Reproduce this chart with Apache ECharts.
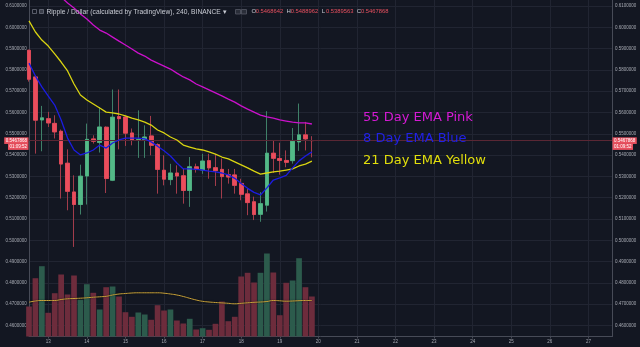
<!DOCTYPE html>
<html>
<head>
<meta charset="utf-8">
<script src="https://cdn.jsdelivr.net/npm/echarts@6/dist/echarts.min.js"></script>
<style>
  html, body { margin: 0; padding: 0; background: #131722; }
  #chart { width: 640px; height: 347px; }
</style>
</head>
<body>
<div id="chart"></div>
<script>
// XRP / USD, 4-hour candles from the 12th 12:00 to the 19th 20:00 (Binance)
const dayLabels = ['13', '14', '15', '16', '17', '18', '19', '20', '21', '22', '23', '24', '25', '26', '27'];
const firstDayCandle = 3;   // candle index that opens the 13th
const candlesPerDay = 6;

const opens = [0.5892, 0.5767, 0.5565, 0.5571, 0.5549, 0.5512, 0.5362, 0.5227, 0.5168, 0.5302,
  0.5476, 0.5459, 0.5531, 0.5282, 0.5581, 0.5579, 0.5504, 0.5472, 0.5473, 0.5490,
  0.5449, 0.5329, 0.5285, 0.5316, 0.5303, 0.5234, 0.5345, 0.5330, 0.5374, 0.5341,
  0.5333, 0.5308, 0.5307, 0.5267, 0.5218, 0.5181, 0.5122, 0.5165, 0.5409, 0.5384,
  0.5375, 0.5374, 0.5462, 0.5495, 0.5468642];
const closes = [0.5756, 0.5564, 0.5575, 0.5551, 0.5509, 0.5358, 0.5230, 0.5168, 0.5301, 0.5474,
  0.5465, 0.5532, 0.5290, 0.5578, 0.5571, 0.5503, 0.5471, 0.5474, 0.5485, 0.5446,
  0.5333, 0.5287, 0.5316, 0.5302, 0.5234, 0.5345, 0.5333, 0.5372, 0.5340, 0.5327,
  0.5299, 0.5297, 0.5258, 0.5216, 0.5177, 0.5121, 0.5172, 0.5409, 0.5385, 0.5375,
  0.5366, 0.5465, 0.5495, 0.5476, 0.5467868];
const lows = [0.5745, 0.5407, 0.5418, 0.5532, 0.5478, 0.5196, 0.5141, 0.4969, 0.5121, 0.5168,
  0.5454, 0.5412, 0.5222, 0.5278, 0.5427, 0.5443, 0.5446, 0.5387, 0.5387, 0.5399,
  0.5219, 0.5258, 0.5259, 0.5219, 0.5172, 0.5157, 0.5318, 0.5312, 0.5289, 0.5255,
  0.5196, 0.5266, 0.5219, 0.5188, 0.5118, 0.5095, 0.5087, 0.5135, 0.5316, 0.5308,
  0.5343, 0.5360, 0.5420, 0.5422, 0.5389563];
const highs = [0.5895, 0.5775, 0.5631, 0.5603, 0.5587, 0.5520, 0.5427, 0.5305, 0.5355, 0.5548,
  0.5493, 0.5626, 0.5535, 0.5708, 0.5708, 0.5585, 0.5525, 0.5610, 0.5540, 0.5584,
  0.5455, 0.5399, 0.5359, 0.5352, 0.5336, 0.5391, 0.5360, 0.5406, 0.5406, 0.5404,
  0.5384, 0.5335, 0.5335, 0.5289, 0.5243, 0.5205, 0.5226, 0.5606, 0.5469, 0.5458,
  0.5422, 0.5527, 0.5642, 0.5556, 0.5488962];

const ema8 = [0.5832, 0.5771, 0.5720, 0.5677, 0.5635, 0.5565, 0.5480, 0.5424, 0.5401, 0.5410,
  0.5424, 0.5447, 0.5433, 0.5457, 0.5471, 0.5480, 0.5480, 0.5480, 0.5476, 0.5462,
  0.5442, 0.5420, 0.5396, 0.5363, 0.5335, 0.5335, 0.5333, 0.5330, 0.5325, 0.5321,
  0.5316, 0.5307, 0.5291, 0.5267, 0.5244, 0.5225, 0.5213, 0.5246, 0.5283, 0.5293,
  0.5305, 0.5340, 0.5373, 0.5396, 0.5415];
const ema21 = [0.6030, 0.5978, 0.5940, 0.5912, 0.5875, 0.5837, 0.5795, 0.5734, 0.5682, 0.5659,
  0.5640, 0.5621, 0.5602, 0.5598, 0.5593, 0.5584, 0.5574, 0.5565, 0.5555, 0.5541,
  0.5518, 0.5504, 0.5485, 0.5471, 0.5447, 0.5438, 0.5429, 0.5424, 0.5415, 0.5405,
  0.5391, 0.5382, 0.5368, 0.5354, 0.5340, 0.5325, 0.5311, 0.5316, 0.5321, 0.5325,
  0.5330, 0.5335, 0.5349, 0.5358, 0.5372];
const ema55 = [0.6269, 0.6241, 0.6217, 0.6189, 0.6166, 0.6142, 0.6114, 0.6091, 0.6063, 0.6039,
  0.6011, 0.5987, 0.5973, 0.5954, 0.5935, 0.5917, 0.5898, 0.5879, 0.5865, 0.5846,
  0.5832, 0.5818, 0.5804, 0.5785, 0.5767, 0.5753, 0.5734, 0.5720, 0.5706, 0.5692,
  0.5678, 0.5663, 0.5649, 0.5631, 0.5616, 0.5602, 0.5588, 0.5579, 0.5574, 0.5565,
  0.5560, 0.5555, 0.5551, 0.5551, 0.5546];

// volume per candle (thousands of XRP) and its moving average
const volume = [300, 583, 703, 237, 433, 620, 420, 610, 367, 523,
  437, 270, 493, 500, 400, 243, 197, 240, 220, 167,
  313, 260, 270, 160, 130, 177, 70, 83, 67, 127,
  350, 153, 197, 600, 637, 540, 637, 830, 640, 213,
  537, 560, 783, 493, 400];
const volumeMA = [343, 355, 360, 360, 360, 370, 377, 380, 383, 387,
  393, 397, 402, 415, 425, 430, 435, 437, 437, 437,
  437, 433, 425, 415, 400, 382, 365, 352, 345, 340,
  336, 332, 327, 332, 337, 342, 345, 350, 360, 357,
  353, 355, 358, 360, 360];

const priceTicks = [0.46, 0.47, 0.48, 0.49, 0.50, 0.51, 0.52, 0.53, 0.54, 0.55, 0.56, 0.57, 0.58, 0.59, 0.60, 0.61];
const countdown = '01:09:52';

// ---- derived tables ----
const UP = '#53b987', DOWN = '#eb4d5c';
const last = opens.length - 1;
const lastClose = closes[last];
const candleRows = opens.map((o, i) => [i, o, closes[i], lows[i], highs[i]]);
const bodyRows = opens.map((o, i) => [i, o, closes[i], Math.min(o, closes[i]), Math.max(o, closes[i])]);
const asLine = arr => arr.map((v, i) => [i, v]);
const dayTicks = dayLabels.map((d, k) => firstDayCandle + k * candlesPerDay);
const volBars = volume.map((v, i) => ({
  value: [i, v],
  itemStyle: { color: closes[i] >= opens[i] ? '#2c5b4c' : '#6d2c3c' }
}));

const axisFont = { fontFamily: 'Liberation Sans', fontSize: 4.5, color: '#a7aab3' };
const axisLineStyle = { color: '#474b57', width: 1 };
const gridLineColor = '#212532';
const fmtPrice = v => Number(v).toFixed(7);

const chart = echarts.init(document.getElementById('chart'), null, { renderer: 'canvas' });

const header = [];
// symbol icons
header.push({ type: 'rect', z: 100, shape: { x: 32.5, y: 9.5, width: 4, height: 4 }, style: { fill: 'none', stroke: '#6b6f7b', lineWidth: 0.8 } });
header.push({ type: 'rect', z: 100, shape: { x: 39.5, y: 9.5, width: 4, height: 4 }, style: { fill: '#3a3e4a', stroke: '#6b6f7b', lineWidth: 0.8 } });
header.push({ type: 'text', z: 100, x: 46.5, y: 11.8, style: { text: 'Ripple / Dollar (calculated by TradingView), 240, BINANCE \u25BE', fill: '#c9ccd4', font: '6.7px "Liberation Sans"', verticalAlign: 'middle' } });
header.push({ type: 'rect', z: 100, shape: { x: 235.5, y: 9.5, width: 5, height: 4.5 }, style: { fill: '#2a2e39', stroke: '#555966', lineWidth: 0.8 } });
header.push({ type: 'rect', z: 100, shape: { x: 241.5, y: 9.5, width: 5, height: 4.5 }, style: { fill: '#2a2e39', stroke: '#555966', lineWidth: 0.8 } });
const ohlc = [['O', opens[last], 251.5], ['H', highs[last], 286.5], ['L', lows[last], 321.8], ['C', closes[last], 356.8]];
ohlc.forEach(([k, v, x]) => {
  header.push({ type: 'text', z: 100, x: x, y: 11.8, style: { text: k, fill: '#c9ccd4', font: '6px "Liberation Sans"', verticalAlign: 'middle' } });
  header.push({ type: 'text', z: 100, x: x + 4.2, y: 11.8, style: { text: fmtPrice(v), fill: '#e8505f', font: '5.8px "Liberation Sans"', verticalAlign: 'middle' } });
});

// moving-average captions
const captions = [
  ['55 Day EMA Pink', '#d51ad5', 117.5],
  ['8 Day EMA Blue', '#2121e6', 138.5],
  ['21 Day EMA Yellow', '#e2df0c', 160.5]
];
captions.forEach(([t, c, y]) => {
  header.push({ type: 'text', x: 363, y: y, z: 100, style: { text: t, fill: c, font: '13px "DejaVu Sans"', verticalAlign: 'middle' } });
});

const priceTagRich = {
  a: { backgroundColor: '#e8505f', color: '#ffffff', fontFamily: 'Liberation Sans', fontSize: 4.5, padding: [1, 1.5, 0.6, 1.5], lineHeight: 6.3 },
  b: { backgroundColor: '#e8505f', color: '#ffffff', fontFamily: 'Liberation Sans', fontSize: 4.5, padding: [0.6, 1.5, 0.6, 1.5], lineHeight: 6 }
};
const tagText = () => '{a|' + fmtPrice(lastClose) + '}\n{b|' + countdown + '}';

const option = {
  backgroundColor: '#131722',
  animation: false,
  grid: [
    { left: 29, right: 27.5, top: 0, bottom: 10.5, show: false },
    { left: 29, right: 27.5, top: 240, bottom: 10.5, show: false }
  ],
  xAxis: [
    {
      type: 'value', gridIndex: 0, min: 0, max: 90.75,
      axisLine: { show: true, lineStyle: axisLineStyle },
      axisTick: { show: true, length: 2, lineStyle: axisLineStyle, customValues: dayTicks },
      axisLabel: Object.assign({ customValues: dayTicks, margin: 2.5,
        formatter: v => dayLabels[Math.round((v - firstDayCandle) / candlesPerDay)] }, axisFont),
      splitLine: { show: true, lineStyle: { color: gridLineColor, width: 1 } }
    },
    { type: 'value', gridIndex: 1, min: 0, max: 90.75, show: false, splitLine: { show: false } }
  ],
  yAxis: [
    {
      type: 'value', gridIndex: 0, position: 'left', min: 0.45484, max: 0.61282, scale: true,
      axisLine: { show: true, lineStyle: axisLineStyle },
      axisTick: { show: false, customValues: priceTicks },
      axisLabel: Object.assign({ customValues: priceTicks, margin: 2.3, formatter: fmtPrice }, axisFont),
      splitLine: { show: true, lineStyle: { color: gridLineColor, width: 1 } }
    },
    {
      type: 'value', gridIndex: 0, position: 'right', min: 0.45484, max: 0.61282, scale: true,
      axisLine: { show: true, lineStyle: axisLineStyle },
      axisTick: { show: false, customValues: priceTicks },
      axisLabel: Object.assign({ customValues: priceTicks, margin: 2.6, formatter: fmtPrice }, axisFont),
      splitLine: { show: false }
    },
    { type: 'value', gridIndex: 1, min: 0, max: 965, show: false, splitLine: { show: false } }
  ],
  graphic: header,
  series: [
    {
      name: 'Volume', type: 'bar', xAxisIndex: 1, yAxisIndex: 2, z: 1,
      barWidth: 5.7, data: volBars, clip: true
    },
    {
      name: 'Volume MA', type: 'line', xAxisIndex: 1, yAxisIndex: 2, z: 2,
      data: asLine(volumeMA), showSymbol: false, smooth: true,
      lineStyle: { color: '#c9a33b', width: 1, shadowColor: 'rgba(0,0,0,0.8)', shadowBlur: 1.5 }
    },
    {
      // wicks (dimmer strokes)
      name: 'wicks', type: 'candlestick', xAxisIndex: 0, yAxisIndex: 1, z: 3,
      encode: { x: 0, y: [1, 2, 3, 4] }, barWidth: 4.2, clip: true,
      data: candleRows,
      itemStyle: { color: '#3f8068', color0: '#a23c4b', borderColor: '#3f8068', borderColor0: '#a23c4b', borderWidth: 1 }
    },
    {
      name: 'XRPUSD', type: 'candlestick', xAxisIndex: 0, yAxisIndex: 1, z: 4,
      encode: { x: 0, y: [1, 2, 3, 4] }, barWidth: 4.2, clip: true,
      data: bodyRows,
      itemStyle: { color: UP, color0: DOWN, borderColor: UP, borderColor0: DOWN, borderWidth: 0.6 },
      markLine: {
        silent: true, symbol: ['none', 'none'], precision: 7,
        lineStyle: { color: '#5a2734', width: 1, type: 'solid' },
        data: [
          {
            yAxis: lastClose,
            label: { show: true, position: 'end', distance: 0, offset: [0, 3], rich: priceTagRich,
              formatter: tagText, align: 'left' }
          },
          {
            yAxis: lastClose,
            label: { show: true, position: 'start', distance: 0.5, offset: [0, 3], rich: priceTagRich,
              formatter: tagText, align: 'right' }
          }
        ]
      }
    },
    {
      name: 'EMA 55', type: 'line', xAxisIndex: 0, yAxisIndex: 1, z: 5,
      data: asLine(ema55), showSymbol: false, clip: true,
      lineStyle: { color: '#cc11cc', width: 1.3 }
    },
    {
      name: 'EMA 21', type: 'line', xAxisIndex: 0, yAxisIndex: 1, z: 5,
      data: asLine(ema21), showSymbol: false, clip: true,
      lineStyle: { color: '#d9d411', width: 1.3 }
    },
    {
      name: 'EMA 8', type: 'line', xAxisIndex: 0, yAxisIndex: 1, z: 5,
      data: asLine(ema8), showSymbol: false, clip: true,
      lineStyle: { color: '#1c1ce0', width: 1.3 }
    }
  ]
};

chart.setOption(option);
</script>
</body>
</html>
